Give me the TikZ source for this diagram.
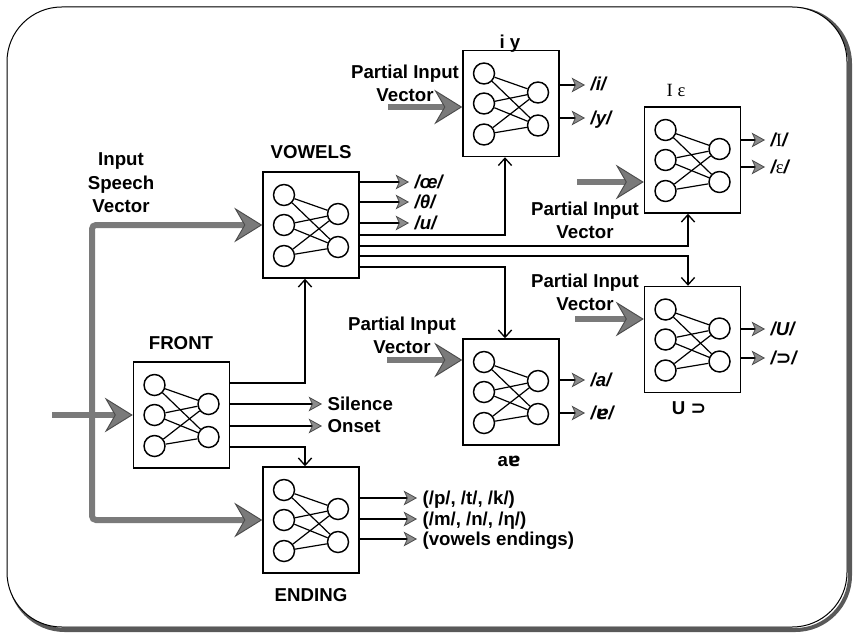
\documentclass[tikz,border=0pt]{standalone}
\usepackage{fontspec}
\setmainfont{Liberation Sans}
\newfontfamily\serifipa{Liberation Serif}
\newfontfamily\symipa{DejaVu Sans}
\usetikzlibrary{arrows.meta,positioning,calc}

\begin{document}
\begin{tikzpicture}[
    x=0.75pt, y=-0.75pt,
    font=\fontsize{14}{17.5}\selectfont\bfseries,
    netbox/.style={draw, line width=1.1pt, minimum width=72pt, minimum height=79.5pt, inner sep=0pt},
    neuron/.style={draw, circle, line width=1.1pt, minimum size=15.75pt, inner sep=0pt},
    synapse/.style={line width=0.9pt},
    title/.style={anchor=base, inner sep=0pt},
    phon/.style={anchor=west, inner xsep=4pt, inner ysep=0pt, text height=11pt, text depth=2pt},
    vowel/.style={phon, font=\fontsize{14}{17.5}\selectfont\bfseries\itshape},
    partial/.style={align=center, inner sep=0pt},
    output/.style={line width=1pt, -{Stealth[length=10pt, width=11pt, inset=2.5pt, color=black!70, fill=black!45, line width=0.6pt]}},
    link/.style={line width=1pt, -{Straight Barb[length=5.5pt, width=10pt, line width=1pt]}},
    feed/.style={line width=4.5pt, draw=black!52, rounded corners=3pt, -{Stealth[length=21pt, width=26pt, inset=7.5pt, color=black!70, fill=black!52, line width=0.7pt]}},
    net/.pic={
        \foreach \k/\v in {1/-30,2/0,3/31}
            \node[neuron] (-in\k) at (-27,\v) {};
        \foreach \k/\v in {1/-11,2/22}
            \node[neuron] (-out\k) at (27,\v) {};
        \foreach \k in {1,2,3}
            \foreach \m in {1,2}
                \draw[synapse] (-in\k) -- (-out\m);
    }
]
    \useasboundingbox (0,0) rectangle (853,635);

    % frame with its shadow
    \draw[line width=3pt, black!65, rounded corners=41pt] (10,9) rectangle (850,630);
    \draw[line width=0.75pt, fill=white, rounded corners=41pt] (7,7) rectangle (847,627);

    % networks
    \node[netbox] (vowels) at (311,225) {};
    \node[netbox] (front) at (181.5,415) {};
    \node[netbox] (ending) at (311,520) {};
    \node[netbox] (iy) at (511,103.5) {};
    \node[netbox] (ieps) at (692.5,160) {};
    \node[netbox] (uo) at (692.5,339.5) {};
    \node[netbox] (ae) at (511,392) {};
    \foreach \b in {vowels,front,ending,iy,ieps,uo,ae}
        \pic (\b) at (\b) {net};

    \node[title] (vowelsT) at (311,158) {VOWELS};
    \node[title] (frontT) at (181,349) {FRONT};
    \node[title] (endingT) at (311,601) {ENDING};
    \node[title] (iyT) at (510,49) {i y};
    \node[title, font=\fontsize{14}{17.5}\selectfont\serifipa] (iepsT) at (676,97) {I ε};
    \node[title] (aeT) at (509,466) {a{\symipa ɐ}};
    \node[title] (uoT) at (689,414) {U {\symipa ⊃}};

    % outputs
    \node[vowel] (out-oe) at (409,182) {/œ/};
    \node[vowel] (out-theta) at (409,202) {/θ/};
    \node[vowel] (out-u) at (409,223) {/u/};
    \node[vowel] (out-i) at (585,85) {/i/};
    \node[vowel] (out-y) at (585,118) {/y/};
    \node[vowel] (out-I) at (765,140) {/{\serifipa\mdseries\upshape I}/};
    \node[vowel] (out-eps) at (765,167) {/{\serifipa\mdseries\upshape ε}/};
    \node[vowel] (out-U) at (765,329) {/U/};
    \node[vowel] (out-open) at (765,358) {/{\symipa ⊃}/};
    \node[vowel] (out-a) at (585,380) {/a/};
    \node[vowel] (out-turn) at (585,413) {/{\symipa ɐ}/};
    \node[phon] (out-stop) at (417,498) {(/p/, /t/, /k/)};
    \node[phon] (out-nasal) at (417,519) {(/m/, /n/, /η/)};
    \node[phon] (out-vend) at (417,539) {(vowels endings)};
    \node[phon] (out-sil) at (322,404) {Silence};
    \node[phon] (out-ons) at (322,426) {Onset};

    \foreach \n in {oe,theta,u}
        \draw[output] (vowels.east |- out-\n.west) -- (out-\n.west);
    \foreach \n in {i,y}
        \draw[output] (iy.east |- out-\n.west) -- (out-\n.west);
    \foreach \n in {I,eps}
        \draw[output] (ieps.east |- out-\n.west) -- (out-\n.west);
    \foreach \n in {U,open}
        \draw[output] (uo.east |- out-\n.west) -- (out-\n.west);
    \foreach \n in {a,turn}
        \draw[output] (ae.east |- out-\n.west) -- (out-\n.west);
    \foreach \n in {stop,nasal,vend}
        \draw[output] (ending.east |- out-\n.west) -- (out-\n.west);
    \foreach \n in {sil,ons}
        \draw[output] (front.east |- out-\n.west) -- (out-\n.west);

    % links between networks
    \draw[link] ($(vowels.east)+(0,10)$) -| ($(iy.south)+(-6,0)$);
    \draw[link] ($(vowels.east)+(0,21)$) -| ($(ieps.south)+(-4.5,0)$);
    \draw[link] ($(vowels.east)+(0,31)$) -| ($(uo.north)+(-4.5,0)$);
    \draw[link] ($(vowels.east)+(0,42)$) -| ($(ae.north)+(-6,0)$);
    \draw[link] ($(front.east)+(0,-32)$) -| ($(vowels.south)+(-6,0)$);
    \draw[link] ($(front.east)+(0,32)$) -| ($(ending.north)+(-6,0)$);

    % speech input
    \coordinate (speech) at (52,415);
    \coordinate (bus) at (92,415);
    \draw[feed] (speech) -- (front.west);
    \draw[feed] (bus) |- (vowels.west);
    \draw[feed] (bus) |- (ending.west);
    \node[partial] (speechL) at (121,183) {Input\\Speech\\Vector};

    % partial inputs
    \coordinate (iyin) at (388,107);
    \coordinate (iepsin) at (577,182);
    \coordinate (uoin) at (575,319);
    \coordinate (aein) at (387,360);
    \draw[feed] (iyin) -- (iyin -| iy.west);
    \draw[feed] (iepsin) -- (iepsin -| ieps.west);
    \draw[feed] (uoin) -- (uoin -| uo.west);
    \draw[feed] (aein) -- (aein -| ae.west);
    \node[partial] (iyL) at (405,83) {Partial Input\\Vector};
    \node[partial] (iepsL) at (585,220) {Partial Input\\Vector};
    \node[partial] (uoL) at (585,292) {Partial Input\\Vector};
    \node[partial] (aeL) at (402,335) {Partial Input\\Vector};
\end{tikzpicture}
\end{document}
